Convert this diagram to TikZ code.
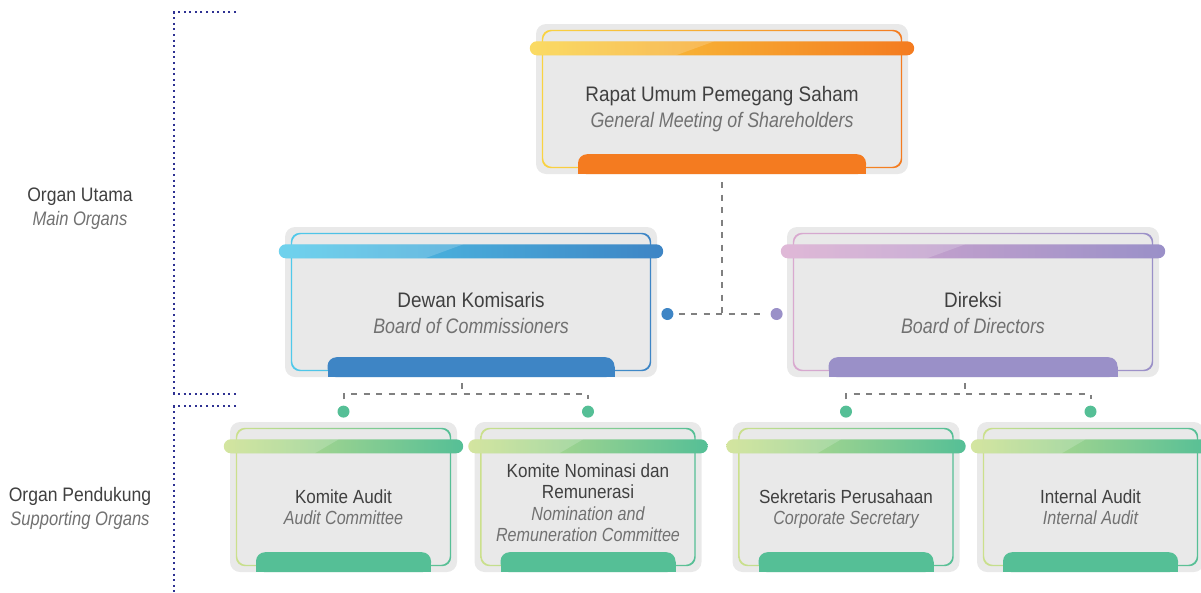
\documentclass[tikz,border=0pt]{standalone}
\usepackage{fontspec}
\setmainfont{Liberation Sans}[UprightFeatures={FakeStretch=0.9},ItalicFeatures={FakeStretch=0.85}]
\usetikzlibrary{positioning,calc}

\definecolor{boxgrey}{HTML}{E9E9E9}
\definecolor{ink}{HTML}{404040}
\definecolor{inksub}{HTML}{717171}
\definecolor{linkgrey}{HTML}{808080}
\definecolor{navy}{HTML}{2E3192}
\definecolor{orgYellow}{HTML}{F9D342}
\definecolor{orgOrange}{HTML}{F47B20}
\definecolor{orgCyan}{HTML}{50C9EA}
\definecolor{orgBlue}{HTML}{3E85C5}
\definecolor{orgPink}{HTML}{D9A9CF}
\definecolor{orgPurple}{HTML}{9A90C8}
\definecolor{orgLime}{HTML}{CBE08C}
\definecolor{orgGreen}{HTML}{55BF96}

\newcommand{\engl}[1]{{\itshape\color{inksub}#1}}
\newcommand{\organdeco}[4]{%
  \coordinate (#1bl) at ([shift={(-6pt,-31.5pt)}]#1.north west);
  \coordinate (#1tr) at ([shift={(6pt,-17.5pt)}]#1.north east);
  \coordinate (#1tl) at (#1bl |- #1tr);
  \coordinate (#1br) at (#1tr |- #1bl);
  \shade[left color=#2,right color=#3,even odd rule,rounded corners=9pt]
    ([shift={(6pt,-6pt)}]#1.north west) rectangle ([shift={(-6pt,6pt)}]#1.south east)
    ([shift={(7.3pt,-7.3pt)}]#1.north west) rectangle ([shift={(-7.3pt,7.3pt)}]#1.south east);
  \shade[left color=#2,right color=#3,rounded corners=7pt] (#1bl) rectangle (#1tr);
  \begin{scope}
    \clip[rounded corners=7pt] (#1bl) rectangle (#1tr);
    \fill[white,opacity=.18] (#1bl) -- (#1tl) -- ($(#1tl)!.48!(#1tr)$) -- ($(#1bl)!.38!(#1br)$) -- cycle;
  \end{scope}
  \fill[#3,rounded corners=9pt] ([shift={(-#4pt/2,20pt)}]#1.south) rectangle ([shift={(#4pt/2,0pt)}]#1.south);
  \fill[#3] ([shift={(-#4pt/2,10pt)}]#1.south) rectangle ([shift={(#4pt/2,0pt)}]#1.south);
}

\begin{document}
\begin{tikzpicture}[x=1pt,y=-1pt,
  organ/.style={rectangle,rounded corners=10pt,fill=boxgrey,inner sep=0pt,minimum height=150pt},
  bigtxt/.style={anchor=north,align=center,inner sep=0pt,text=ink,font=\fontsize{21}{26}\selectfont},
  smalltxt/.style={anchor=north,align=center,inner sep=0pt,text=ink,font=\fontsize{19}{21.5}\selectfont},
  sidetxt/.style={anchor=north,align=center,inner sep=0pt,text=ink,font=\fontsize{19.5}{24}\selectfont},
  orgdot/.style={circle,inner sep=0pt,minimum size=12pt},
  link/.style={draw=linkgrey,line width=2pt,dash pattern=on 6pt off 6.5pt},
  bracket/.style={draw=navy,line width=2.2pt,dash pattern=on 2pt off 3.6pt}]
\useasboundingbox (0,0) rectangle (1201,592);

\draw[bracket] (236,12) -- (174,12) -- (174,394) -- (236,394);
\draw[bracket] (236,406) -- (174,406) -- (174,592);
\path (80,188) node[sidetxt] (utama) {Organ Utama\\\engl{Main Organs}};
\path (80,487) node[sidetxt] (pendukung) {Organ Pendukung\\\engl{Supporting Organs}};

\path (722,99) node[organ,minimum width=372pt] (rups) {};
\organdeco{rups}{orgYellow}{orgOrange}{288}
\path (722,86) node[bigtxt] (rupsT) {Rapat Umum Pemegang Saham\\\engl{General Meeting of Shareholders}};

\path (471,302) node[organ,minimum width=372pt] (dekom) {};
\organdeco{dekom}{orgCyan}{orgBlue}{287}
\path (471,292) node[bigtxt] (dekomT) {Dewan Komisaris\\\engl{Board of Commissioners}};

\path (973,302) node[organ,minimum width=372pt] (direksi) {};
\organdeco{direksi}{orgPink}{orgPurple}{289}
\path (973,292) node[bigtxt] (direksiT) {Direksi\\\engl{Board of Directors}};

\path (343.5,497) node[organ,minimum width=227pt] (komaud) {};
\organdeco{komaud}{orgLime}{orgGreen}{175}
\path (343.5,489.4) node[smalltxt] (komaudT) {Komite Audit\\\engl{Audit Committee}};

\path (588,497) node[organ,minimum width=227pt] (komnr) {};
\organdeco{komnr}{orgLime}{orgGreen}{175}
\path (588,463.4) node[smalltxt] (komnrT) {Komite Nominasi dan\\Remunerasi\\\engl{Nomination and}\\\engl{Remuneration Committee}};

\path (846,497) node[organ,minimum width=227pt] (sekper) {};
\organdeco{sekper}{orgLime}{orgGreen}{175}
\path (846,489.4) node[smalltxt] (sekperT) {Sekretaris Perusahaan\\\engl{Corporate Secretary}};

\path (1090.5,497) node[organ,minimum width=227pt] (intaud) {};
\organdeco{intaud}{orgLime}{orgGreen}{175}
\path (1090.5,489.4) node[smalltxt] (intaudT) {Internal Audit\\\engl{Internal Audit}};

\node[orgdot,fill=orgBlue,right=4pt of dekom.east,yshift=-12pt] (dotDk) {};
\node[orgdot,fill=orgPurple,left=4pt of direksi.west,yshift=-12pt] (dotDir) {};
\node[orgdot,fill=orgGreen,above=4pt of komaud] (dotKa) {};
\node[orgdot,fill=orgGreen,above=4pt of komnr] (dotKnr) {};
\node[orgdot,fill=orgGreen,above=4pt of sekper] (dotSp) {};
\node[orgdot,fill=orgGreen,above=4pt of intaud] (dotIa) {};

\draw[link] ([yshift=-8pt]rups.south) -- (rups.south |- dotDk);
\draw[link,shorten <=5pt,shorten >=5pt] (dotDk) -- (dotDir);
\draw[link] ([shift={(-9pt,-6pt)}]dekom.south) -- ++(0,12);
\draw[link] ([yshift=6pt]dotKa.north) -- ++(0,-5) -| ([yshift=6pt]dotKnr.north);
\draw[link] ([shift={(-8pt,-6pt)}]direksi.south) -- ++(0,12);
\draw[link] ([yshift=6pt]dotSp.north) -- ++(0,-5) -| ([yshift=6pt]dotIa.north);
\end{tikzpicture}
\end{document}
